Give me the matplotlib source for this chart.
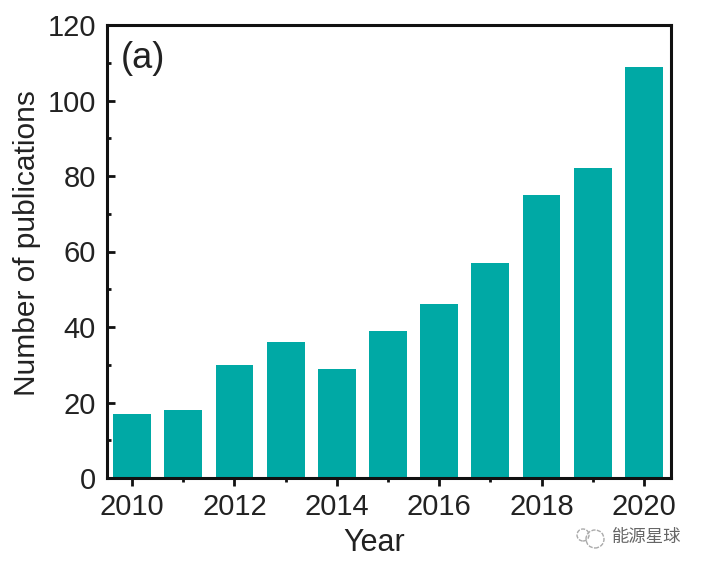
import matplotlib
matplotlib.use('Agg')
import matplotlib.pyplot as plt
from matplotlib.patches import Circle
from matplotlib.transforms import IdentityTransform

plt.rcParams['font.family'] = ['Liberation Sans', 'Noto Sans CJK SC', 'DejaVu Sans']

years = [2010, 2011, 2012, 2013, 2014, 2015, 2016, 2017, 2018, 2019, 2020]
counts = [17, 18, 30, 36, 29, 39, 46, 57, 75, 82, 109]
xticks = [2010, 2012, 2014, 2016, 2018, 2020]
xminor = [2011, 2013, 2015, 2017, 2019]
yticks = [0, 20, 40, 60, 80, 100, 120]
yminor = [10, 30, 50, 70, 90, 110]

fig = plt.figure(figsize=(7.01, 5.68), dpi=100)
ax = fig.add_axes([107 / 701, 1 - 478 / 568, (671 - 107) / 701, (478 - 25) / 568])

ax.bar(years, counts, width=0.74, color='#00a9a5')
ax.set_xlim(2009.51, 2020.53)
ax.set_ylim(0, 120)
ax.set_xticks(xticks)
ax.set_xticks(xminor, minor=True)
ax.set_yticks(yticks)
ax.set_yticks(yminor, minor=True)
ax.tick_params(axis='x', which='major', direction='out', labelsize=21, width=2, length=6, pad=5, color='#111111', labelcolor='#222222')
ax.tick_params(axis='x', which='minor', direction='out', width=2, length=3, color='#111111')
ax.tick_params(axis='y', which='major', direction='in', labelsize=21, width=2, length=6, pad=8, color='#111111', labelcolor='#222222')
ax.tick_params(axis='y', which='minor', direction='in', width=2, length=3, color='#111111')
ax.set_xlabel('Year', fontsize=22, color='#222222', labelpad=5, x=0.473)
ax.set_ylabel('Number of publications', fontsize=21.5, color='#222222', labelpad=4.5, y=0.518)
for s in ax.spines.values():
    s.set_linewidth(2.2)
    s.set_color('#111111')

ax.text(0.025, 0.964, '(a)', transform=ax.transAxes, fontsize=26, va='top', color='#222222')

# watermark: wechat style icon + name
for cx, cy, r in [(583, 535, 6), (595, 539, 9)]:
    fig.add_artist(Circle((cx, 568 - cy), r, transform=IdentityTransform(), fill=False,
                          edgecolor='#aaaaaa', linewidth=1, linestyle=(0, (3, 1))))
fig.text(612 / 701, 1 - 537 / 568, '能源星球', fontsize=12.5, va='center', color='#666666')

fig.savefig('out.png', dpi=100)
